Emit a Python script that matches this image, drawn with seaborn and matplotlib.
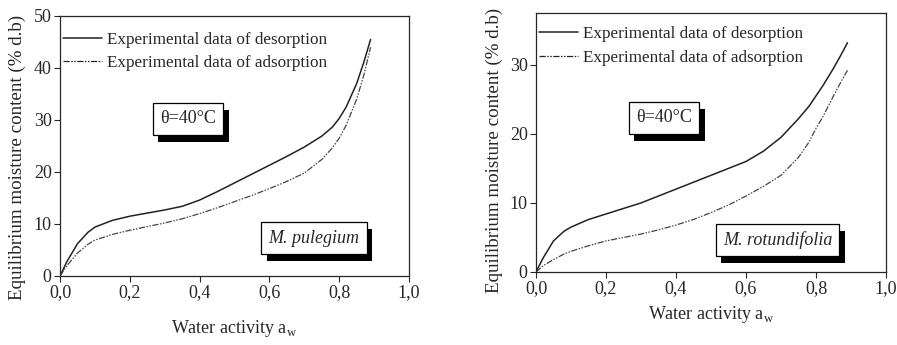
import matplotlib
matplotlib.use("Agg")
import matplotlib.pyplot as plt
import matplotlib.patheffects as pe
import seaborn as sns
import numpy as np
import pandas as pd

# water activity readings (same for all curves)
aw = [0.0, 0.02, 0.05, 0.08, 0.1, 0.15, 0.2, 0.25, 0.3, 0.35, 0.4, 0.45, 0.5,
      0.55, 0.6, 0.65, 0.7, 0.75, 0.78, 0.8, 0.82, 0.85, 0.87, 0.89]

# M. pulegium
pul_des = [0.0, 2.8, 6.2, 8.4, 9.4, 10.7, 11.5, 12.1, 12.7, 13.4, 14.6, 16.2, 17.9,
           19.6, 21.3, 23.0, 24.8, 26.9, 28.6, 30.3, 32.5, 37.0, 41.0, 45.5]
pul_ads = [0.0, 2.0, 4.4, 6.1, 6.9, 8.0, 8.8, 9.5, 10.2, 11.0, 12.0, 13.1, 14.3,
           15.5, 16.8, 18.2, 19.8, 22.4, 24.6, 26.5, 29.0, 34.0, 38.5, 44.0]

# M. rotundifolia
rot_des = [0.0, 2.0, 4.5, 5.9, 6.5, 7.6, 8.4, 9.2, 10.0, 11.0, 12.0, 13.0, 14.0,
           15.0, 16.0, 17.5, 19.5, 22.2, 24.0, 25.5, 27.0, 29.5, 31.3, 33.2]
rot_ads = [0.0, 0.9, 1.8, 2.6, 3.0, 3.8, 4.5, 5.0, 5.5, 6.1, 6.8, 7.6, 8.6,
           9.7, 11.0, 12.4, 14.0, 16.6, 18.8, 20.8, 22.5, 25.5, 27.4, 29.2]

panels = [
    dict(name="M. pulegium", des=pul_des, ads=pul_ads, ytop=50,
         yt=[0, 10, 20, 30, 40, 50], tpos=(0.367, 30.2), npos=(0.728, 7.3),
         leg_y=0.95, xpad=12, ylab=(-0.097, 0.455)),
    dict(name="M. rotundifolia", des=rot_des, ads=rot_ads, ytop=37.5,
         yt=[0, 10, 20, 30], tpos=(0.366, 22.3), npos=(0.69, 4.6),
         leg_y=0.958, xpad=5, ylab=(-0.094, 0.47)),
]

sns.set_theme(style="ticks")
plt.rcParams["font.family"] = ["Liberation Serif", "DejaVu Serif"]
plt.rcParams["mathtext.fontset"] = "custom"
plt.rcParams["mathtext.rm"] = "Liberation Serif"

fig = plt.figure(figsize=(8.97, 3.45), dpi=100)
axes = [fig.add_axes([60 / 897, 1 - 276 / 345, 349 / 897, 260 / 345]),
        fig.add_axes([536 / 897, 1 - 272 / 345, 350 / 897, 259 / 345])]


def shadow_box(ax, xy, txt, style="normal"):
    t = ax.text(xy[0], xy[1], txt, ha="center", va="center", fontsize=13, style=style,
                bbox=dict(boxstyle="square,pad=0.4", fc="white", ec="black", lw=0.9))
    t.get_bbox_patch().set_path_effects([
        pe.SimplePatchShadow(offset=(4, -5), shadow_rgbFace="black", alpha=1.0),
        pe.Normal()])


for ax, p in zip(axes, panels):
    df = pd.DataFrame({"aw": aw, "des": p["des"], "ads": p["ads"]})
    sns.lineplot(data=df, x="aw", y="des", ax=ax, color="#222222", lw=1.1,
                 label="Experimental data of desorption")
    sns.lineplot(data=df, x="aw", y="ads", ax=ax, color="#444444", lw=0.9,
                 label="Experimental data of adsorption")
    ax.lines[1].set_dashes([5, 1.2, 1.2, 1.2, 1.2, 1.2])

    ax.set_xlim(0, 1.0)
    ax.set_ylim(0, p["ytop"])
    xt = np.arange(0, 1.01, 0.2)
    ax.set_xticks(xt)
    ax.set_xticklabels([f"{v:.1f}".replace(".", ",") for v in xt])
    ax.set_yticks(p["yt"])
    ax.tick_params(labelsize=13, length=4, width=0.8, direction="out", pad=2)
    for s in ax.spines.values():
        s.set_linewidth(0.9)
        s.set_visible(True)
    ax.set_xlabel(r"Water activity a$_\mathregular{w}$", fontsize=13, labelpad=p["xpad"])
    ax.set_ylabel("Equilibrium moisture content (% d.b)", fontsize=13.7)
    ax.yaxis.set_label_coords(*p["ylab"])

    leg = ax.legend(loc="upper left", bbox_to_anchor=(0.0, p["leg_y"]), frameon=False,
                    fontsize=12.3, handlelength=2.3, handletextpad=0.3,
                    borderaxespad=0, borderpad=0.15, labelspacing=0.45)
    for h in leg.get_lines():
        h.set_color("#222222")

    shadow_box(ax, p["tpos"], "θ=40°C")
    shadow_box(ax, p["npos"], p["name"], style="italic")

fig.savefig("out.png", dpi=100)
